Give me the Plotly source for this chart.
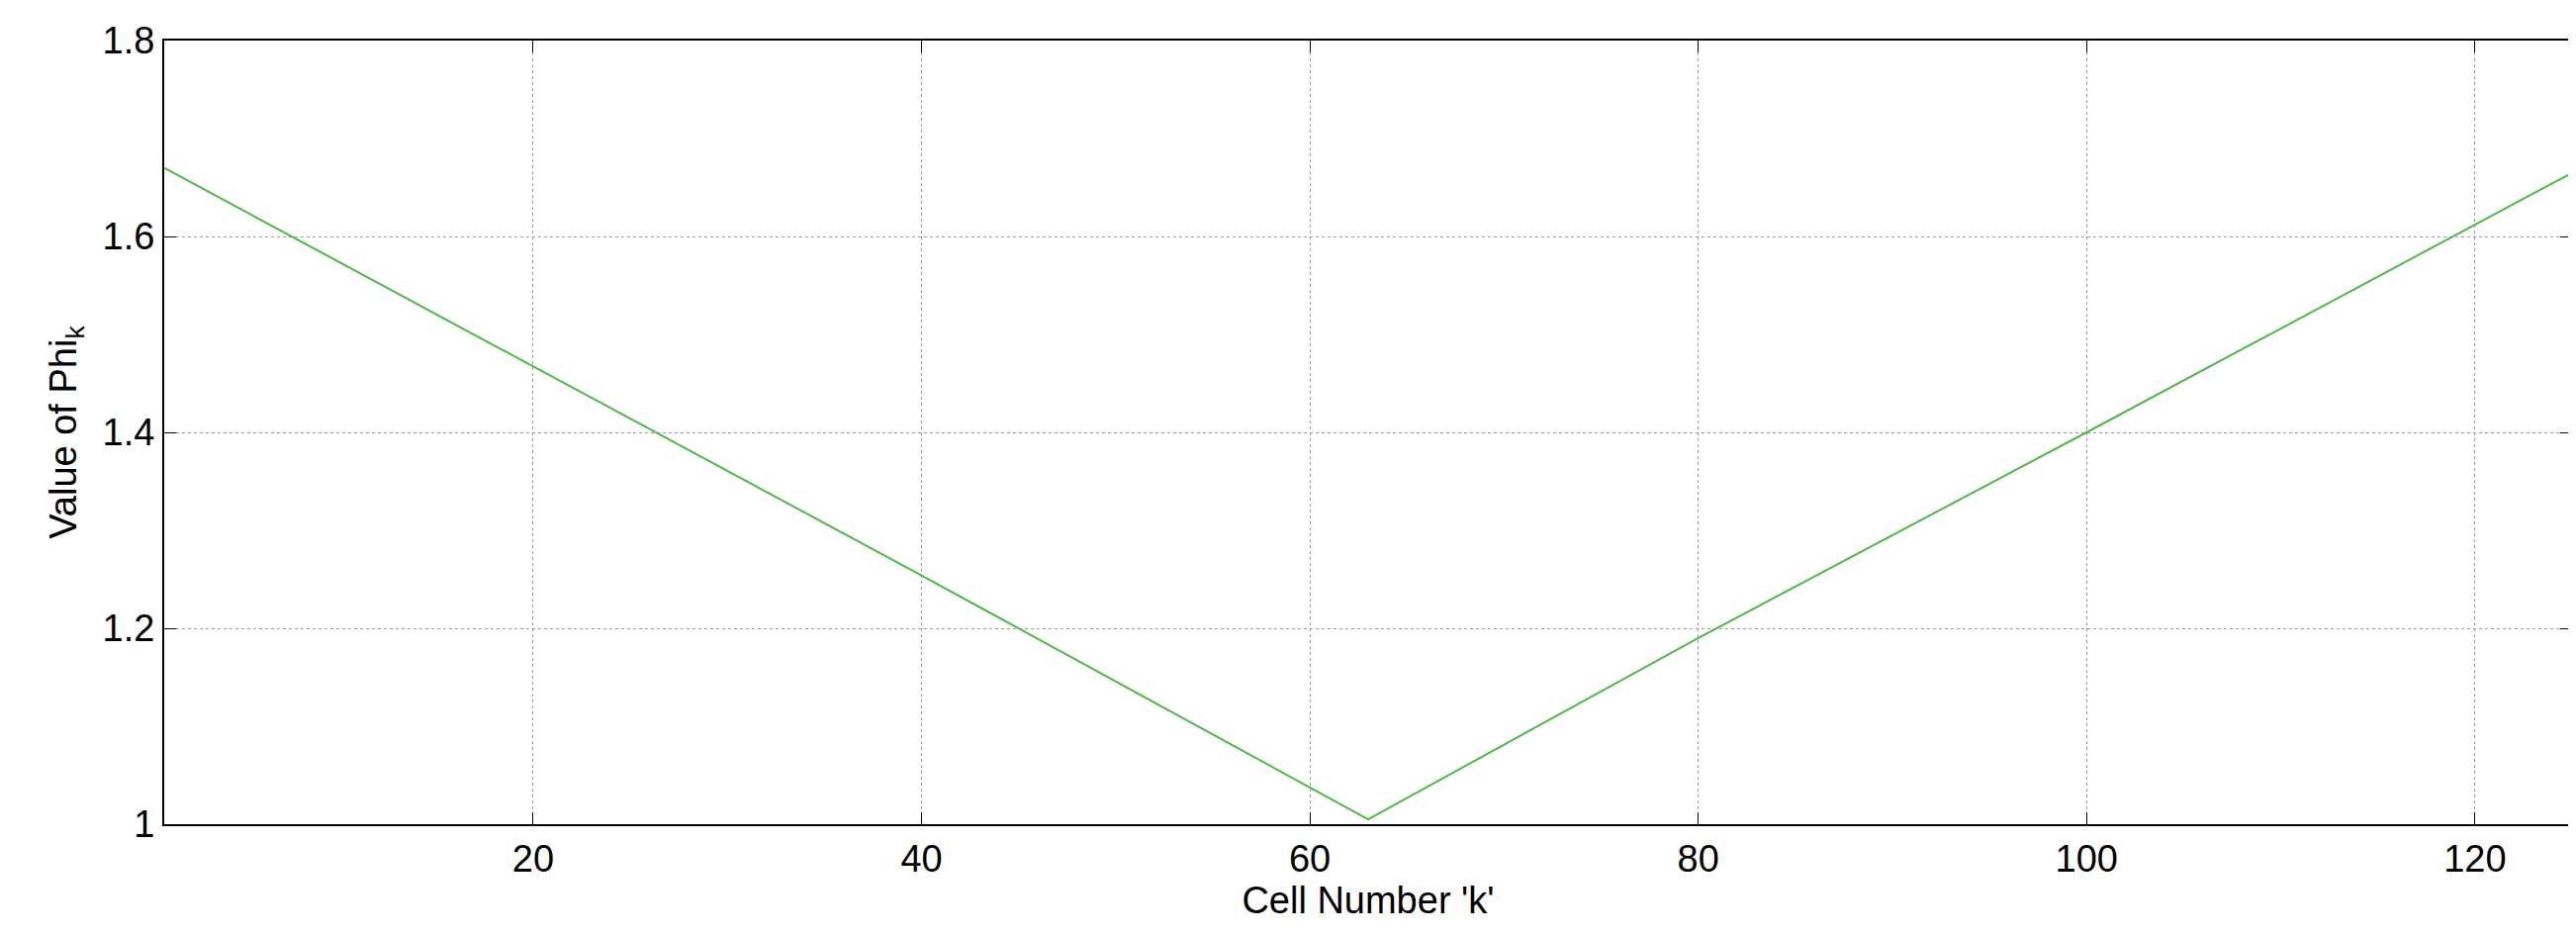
import plotly.graph_objects as go

# cell number k and Phi_k (straight V shape)
cell_k = [1, 20, 40, 63, 80, 100, 125]
phi_k = [1.670, 1.467, 1.254, 1.005, 1.190, 1.400, 1.665]

x_ticks = [20, 40, 60, 80, 100, 120]
y_ticks = [1, 1.2, 1.4, 1.6, 1.8]
y_labels = ["1", "1.2", "1.4", "1.6", "1.8"]

font = dict(family="Liberation Sans", size=38, color="black")

fig = go.Figure()
fig.add_trace(go.Scatter(x=cell_k, y=phi_k, mode="lines",
                         line=dict(color="#4db848", width=2), showlegend=False))

axis_common = dict(showline=True, linecolor="black", linewidth=2, mirror="ticks",
                   ticks="inside", ticklen=12, tickcolor="black",
                   showgrid=True, gridcolor="#999999", griddash="dot", gridwidth=1,
                   zeroline=False, tickfont=font)

fig.update_xaxes(range=[1, 125], tickvals=x_ticks,
                 title=dict(text="Cell Number 'k'", font=font, standoff=4),
                 **axis_common)
fig.update_yaxes(range=[1, 1.8], tickvals=y_ticks, ticktext=y_labels,
                 title=dict(text="Value of Phi<sub>k</sub>", font=font, standoff=14),
                 **axis_common)

fig.update_layout(width=2604, height=945, plot_bgcolor="white", paper_bgcolor="white",
                  margin=dict(l=158, r=10, t=33, b=120))

fig.write_html("out.html")
